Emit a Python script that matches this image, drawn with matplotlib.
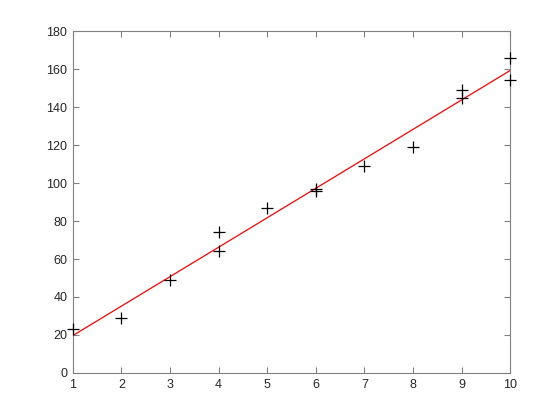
import numpy as np
import matplotlib.pyplot as plt

# Data
x = np.array([1, 2, 3, 4, 4, 5, 6, 6, 7, 8, 9, 9, 10, 10])
y = np.array([23, 29, 49, 74, 64, 87, 97, 96, 109, 119, 149, 145, 166, 154])

xticks = np.arange(1, 11)
yticks = np.arange(0, 181, 20)

plt.rcParams['font.family'] = ['Liberation Sans', 'DejaVu Sans']

fig = plt.figure(figsize=(5.6, 4.2), dpi=100)
ax = fig.add_axes([0.13, 0.112, 0.781, 0.814])

# Least squares line through the data
p = np.polyfit(x, y, 1)
xf = np.array([x.min(), x.max()])
ax.plot(xf, np.polyval(p, xf), color='red', lw=0.9)

ax.plot(x, y, '+', color='black', ms=8, mew=0.9, clip_on=False, zorder=3)

ax.set_xlim(1, 10)
ax.set_ylim(0, 180)
ax.set_xticks(xticks)
ax.set_yticks(yticks)

axcol = '#262626'
for s in ax.spines.values():
    s.set_color('#808080')
    s.set_linewidth(0.8)
ax.tick_params(direction='in', length=4, width=0.8, colors='#808080',
               labelcolor=axcol, labelsize=9, top=True, right=True, pad=4)

fig.savefig('out.png', dpi=100)
